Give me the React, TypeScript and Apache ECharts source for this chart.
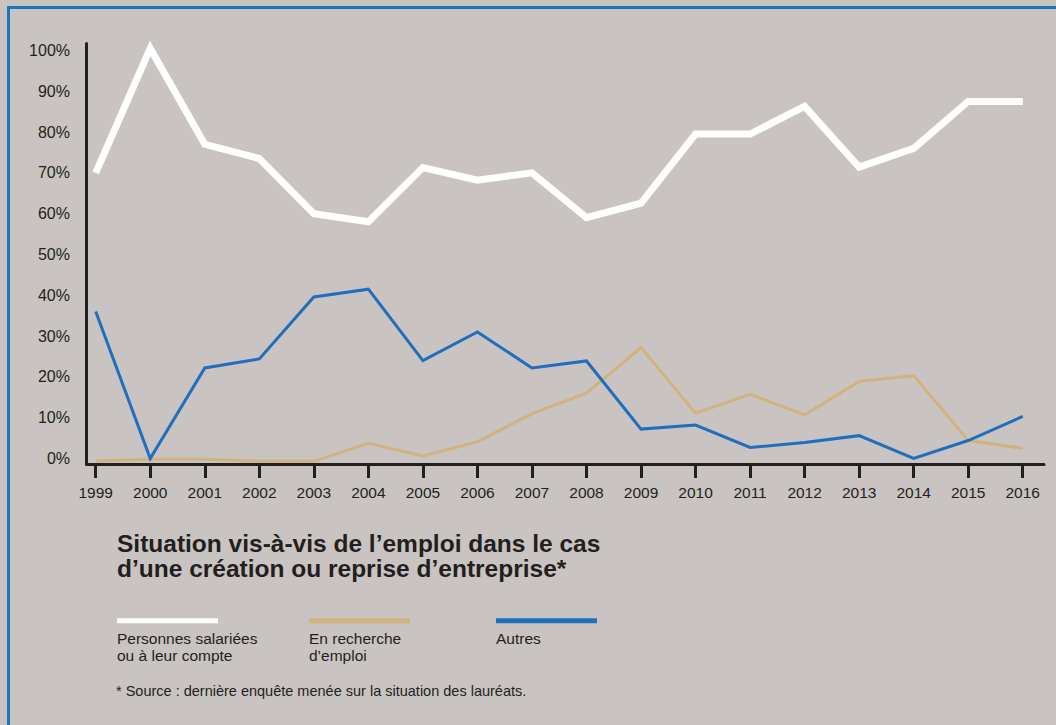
import React, { useEffect, useRef } from "react";
import * as echarts from "echarts";

const years = [1999, 2000, 2001, 2002, 2003, 2004, 2005, 2006, 2007, 2008, 2009, 2010, 2011, 2012, 2013, 2014, 2015, 2016];
const salaries = [70, 100.5, 77, 73.5, 60, 58, 71.3, 68.2, 70, 59, 62.6, 79.5, 79.5, 86.3, 71.4, 76, 87.5, 87.5];
const recherche = [-0.6, -0.2, -0.2, -0.7, -0.7, 3.7, 0.6, 4.1, 11, 16, 27.2, 11.1, 15.7, 10.7, 18.9, 20.3, 4.4, 2.5];
const autres = [36, 0, 22.2, 24.4, 39.6, 41.5, 24, 31, 22.2, 23.9, 7.2, 8.2, 2.7, 3.9, 5.6, 0, 4.4, 10.3];
const yTicks = [0, 10, 20, 30, 40, 50, 60, 70, 80, 90, 100];
const seriesNames = ["Personnes salariées\nou à leur compte", "En recherche\nd’emploi", "Autres"];
const titleLines = ["Situation vis-à-vis de l’emploi dans le cas", "d’une création ou reprise d’entreprise*"];
const footnoteText = "* Source : dernière enquête menée sur la situation des lauréats.";

const BG = "#c9c4c1";
const INK = "#231f20";
const COLORS = ["#ffffff", "#d1b37f", "#1f6fbe"];
const WIDTHS = [7, 3, 3];
const FONT = "'Liberation Sans', Arial, Helvetica, sans-serif";

export default function App() {
  const ref = useRef<HTMLDivElement>(null);
  useEffect(() => {
    if (!ref.current) return;
    const chart = echarts.init(ref.current, null, { renderer: "svg" });
    const X_MIN = 1998.831;
    const X_MAX = 2016.39;
    const seriesData = [salaries, recherche, autres];
    const legendX = [117, 309, 496];
    const graphics: any[] = [];
    titleLines.forEach((line, i) => {
      graphics.push({
        type: "text",
        x: 117,
        y: 543 + i * 25,
        style: {
          text: line,
          fontSize: 24.5,
          fontWeight: "bold",
          fill: INK,
          fontFamily: FONT,
          verticalAlign: "middle",
        },
      });
    });
    graphics.push({
      type: "text",
      x: 116,
      y: 690.5,
      style: {
        text: footnoteText,
        fontSize: 14.5,
        fill: INK,
        fontFamily: FONT,
        verticalAlign: "middle",
      },
    });
    seriesNames.forEach((name, i) => {
      graphics.push({
        type: "line",
        shape: { x1: legendX[i], y1: 620.7, x2: legendX[i] + 101, y2: 620.7 },
        style: { stroke: COLORS[i], lineWidth: 5 },
      });
      graphics.push({
        type: "text",
        left: legendX[i],
        top: 629.6,
        style: {
          text: name,
          fontSize: 15.5,
          lineHeight: 17,
          fill: INK,
          fontFamily: FONT,
        },
      });
    });

    chart.setOption({
      animation: false,
      backgroundColor: BG,
      grid: { left: 86.5, right: 12, top: 43.5, bottom: 261, containLabel: false },
      xAxis: {
        type: "value",
        min: X_MIN,
        max: X_MAX,
        axisLine: { show: true, onZero: false, lineStyle: { color: INK, width: 3 } },
        axisTick: { show: true, customValues: years, length: 14, lineStyle: { color: INK, width: 3 } },
        axisLabel: {
          customValues: years,
          margin: 20,
          fontSize: 15.5,
          color: INK,
          fontFamily: FONT,
          formatter: (v: number) => String(Math.round(v)),
        },
        splitLine: { show: false },
      },
      yAxis: {
        type: "value",
        min: -1.35,
        max: 101.7,
        axisLine: { show: true, onZero: false, lineStyle: { color: INK, width: 3 } },
        axisTick: { show: false },
        axisLabel: {
          customValues: yTicks,
          margin: 16.5,
          fontSize: 16,
          color: INK,
          fontFamily: FONT,
          formatter: (v: number) => Math.round(v) + "%",
        },
        splitLine: { show: false },
      },
      series: seriesNames.map((name, i) => ({
        name,
        type: "line",
        data: years.map((y, j) => [y, seriesData[i][j]]),
        symbol: "none",
        clip: false,
        z: 2 + i,
        lineStyle: { color: COLORS[i], width: WIDTHS[i], join: "miter", cap: "butt" },
      })),
      graphic: graphics,
    });
    return () => chart.dispose();
  }, []);

  return (
    <div style={{ position: "fixed", left: 0, top: 0, width: 1056, height: 725, background: BG }}>
      <div ref={ref} style={{ position: "absolute", left: 0, top: 0, width: 1056, height: 725 }} />
      <div
        style={{
          position: "absolute",
          left: 7,
          top: 6,
          width: 1049,
          height: 719,
          borderTop: "3px solid #1b75bc",
          borderLeft: "3px solid #1b75bc",
          boxSizing: "border-box",
          pointerEvents: "none",
        }}
      />
    </div>
  );
}
